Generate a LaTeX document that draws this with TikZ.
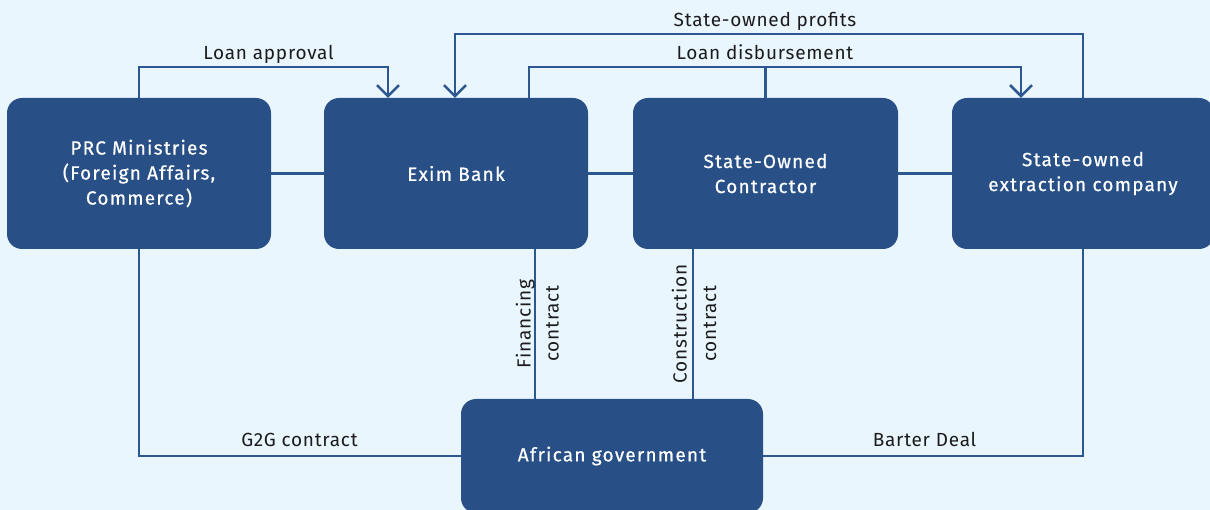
\documentclass[tikz,border=0pt]{standalone}
\usepackage{fontspec}
\setmainfont{Fira Sans}[LetterSpace=4]
\newfontfamily\boxfont[FakeBold=0.6,LetterSpace=6.5]{Fira Sans}
\usetikzlibrary{arrows.meta,calc}
\definecolor{bg}{HTML}{EAF6FE}
\definecolor{boxblue}{HTML}{285087}
\definecolor{linkblue}{HTML}{2C5791}
\definecolor{txt}{HTML}{1C1C1C}
\tikzset{
  entity/.style={fill=boxblue, rounded corners=15pt, text=white, align=center,
    font=\boxfont\fontsize{19}{25}\selectfont, inner sep=0pt},
  link/.style={draw=linkblue, line width=2.5pt},
  arr/.style={link, -{Straight Barb[length=11pt,width=22pt,line width=2.5pt]}},
  lbl/.style={text=txt, font=\fontsize{19}{23}\selectfont, inner sep=0pt, anchor=base},
  vlbl/.style={lbl, rotate=90}
}
\begin{document}
\begin{tikzpicture}[x=1pt,y=-1pt]
\useasboundingbox (0,0) rectangle (1210,510);
\fill[bg] (0,0) rectangle (1210,510);
\clip (0,0) rectangle (1210,510);
% boxes
\node[entity, minimum width=264pt, minimum height=151pt] (prc) at (139,173.5) {PRC Ministries\\(Foreign Affairs,\\Commerce)};
\node[entity, minimum width=264pt, minimum height=151pt] (exim) at (456,173.5) {Exim Bank};
\node[entity, minimum width=265pt, minimum height=151pt] (soc) at (765.5,173.5) {State-Owned\\Contractor};
\node[entity, minimum width=262pt, minimum height=151pt] (ext) at (1083,173.5) {State-owned\\extraction company};
\node[entity, minimum width=302pt, minimum height=114pt] (afr) at (612,456) {African government};
% coordinates
\coordinate (la) at (388,67);
\coordinate (pr) at (455,34);
\coordinate (ldL) at (529,67);
\coordinate (ldR) at (1021,67);
\coordinate (fc) at (535,324);
\coordinate (cc) at (693,324);
% horizontal links
\draw[link] (prc.east) -- (exim.west);
\draw[link] (exim.east) -- (soc.west);
\draw[link] (soc.east) -- (ext.west);
% loan approval
\draw[arr] (prc.north) |- (la) -- (la |- exim.north);
% state-owned profits
\draw[arr] (ext.north) |- (pr) -- (pr |- exim.north);
% loan disbursement
\draw[arr] (ldL |- exim.north) |- (ldR) -- (ldR |- ext.north);
\draw[link] (soc.north) -- (soc.north |- ldL);
% contracts
\draw[link] (fc |- exim.south) -- (fc |- afr.north);
\draw[link] (cc |- soc.south) -- (cc |- afr.north);
\draw[link] (prc.south) |- (afr.west);
\draw[link] (afr.east) -| (ext.south);
% labels
\node[lbl] (tla) at (268.5,59.5) {Loan approval};
\node[lbl] (tpr) at (765,27) {State-owned profits};
\node[lbl] (tld) at (765,59.5) {Loan disbursement};
\node[lbl] (tg2g) at (299.5,446) {G2G contract};
\node[lbl] (tbd) at (924.5,446) {Barter Deal};
\node[vlbl] (tfin) at (530.5,324) {Financing};
\node[vlbl] (tfc) at (558.5,323.5) {contract};
\node[vlbl] (tcon) at (686.5,324) {Construction};
\node[vlbl] (tcc) at (716,323.5) {contract};
\end{tikzpicture}
\end{document}
